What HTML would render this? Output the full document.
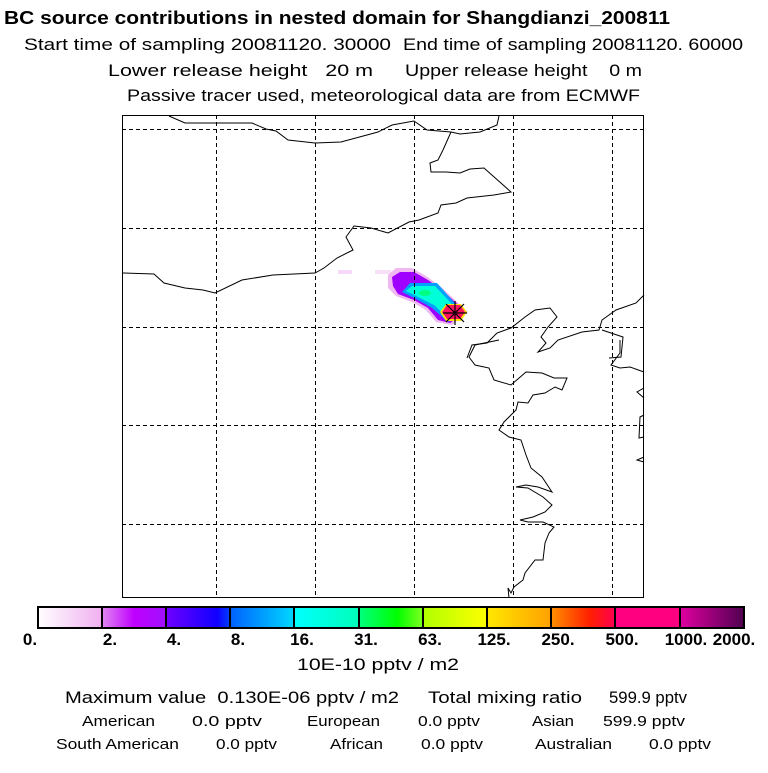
<!DOCTYPE html>
<html><head><style>
body{margin:0;background:#fff;}
svg text{font-family:"Liberation Sans",Arial,sans-serif;fill:#000;}
</style></head><body>
<svg width="768" height="768" viewBox="0 0 768 768" xmlns="http://www.w3.org/2000/svg">
<defs>
<linearGradient id="g1"><stop offset="0" stop-color="#fff"/><stop offset="1" stop-color="#f0b0f0"/></linearGradient>
<linearGradient id="g2"><stop offset="0" stop-color="#e088f0"/><stop offset="0.5" stop-color="#c000ff"/><stop offset="1" stop-color="#a010ff"/></linearGradient>
<linearGradient id="g3"><stop offset="0" stop-color="#7000ff"/><stop offset="0.8" stop-color="#1000ff"/><stop offset="1" stop-color="#0040ff"/></linearGradient>
<linearGradient id="g4"><stop offset="0" stop-color="#0060ff"/><stop offset="1" stop-color="#00d8ff"/></linearGradient>
<linearGradient id="g5"><stop offset="0" stop-color="#00ffff"/><stop offset="1" stop-color="#00ffb8"/></linearGradient>
<linearGradient id="g6"><stop offset="0" stop-color="#00ff80"/><stop offset="0.6" stop-color="#00ff00"/><stop offset="1" stop-color="#80ff20"/></linearGradient>
<linearGradient id="g7"><stop offset="0" stop-color="#b0ff00"/><stop offset="1" stop-color="#ffff00"/></linearGradient>
<linearGradient id="g8"><stop offset="0" stop-color="#ffe800"/><stop offset="1" stop-color="#ffa000"/></linearGradient>
<linearGradient id="g9"><stop offset="0" stop-color="#ff9000"/><stop offset="0.6" stop-color="#ff2000"/><stop offset="1" stop-color="#ff0050"/></linearGradient>
<linearGradient id="g10"><stop offset="0" stop-color="#ff0080"/><stop offset="1" stop-color="#ff0080"/></linearGradient>
<linearGradient id="g11"><stop offset="0" stop-color="#e000a0"/><stop offset="1" stop-color="#500050"/></linearGradient>
</defs>

<text x="4" y="24" font-size="18" font-weight="bold" textLength="666" lengthAdjust="spacingAndGlyphs">BC  source contributions in nested domain for Shangdianzi_200811</text>
<text x="24" y="50" font-size="17" textLength="367" lengthAdjust="spacingAndGlyphs">Start time of sampling 20081120. 30000</text>
<text x="403" y="50" font-size="17" textLength="340" lengthAdjust="spacingAndGlyphs">End time of sampling 20081120. 60000</text>
<text x="108" y="76" font-size="17" textLength="265" lengthAdjust="spacingAndGlyphs" xml:space="preserve">Lower release height   20 m</text>
<text x="405" y="76" font-size="17" textLength="237" lengthAdjust="spacingAndGlyphs" xml:space="preserve">Upper release height    0 m</text>
<text x="127" y="101" font-size="17" textLength="513" lengthAdjust="spacingAndGlyphs">Passive tracer used, meteorological data are from ECMWF</text>

<!-- plume -->
<rect x="338" y="270" width="14" height="4" fill="#f8d8f8"/>
<rect x="375" y="270" width="16" height="4" fill="#f8e0f8"/>
<path d="M388,275 L396,268 L412,268 L426,276 L440,286 L468,312 L452,325 L436,322 L426,310 L412,302 L396,296 L388,288 Z" fill="#f0b8f0"/>
<path d="M392,277 L400,272 L414,272 L428,280 L442,290 L466,312 L450,323 L438,320 L428,308 L414,300 L398,294 L393,286 Z" fill="#a000ff"/>
<path d="M402,292 L410,283 L437,283 L452,300 L464,313 L448,322 L432,308 L418,300 Z" fill="#00a0ff"/>
<path d="M406,291 L412,286 L435,286 L449,301 L460,313 L449,319 L434,305 L420,298 Z" fill="#00ffd8"/>
<ellipse cx="425" cy="293" rx="6" ry="3" fill="#00ff80"/>
<polygon points="440,312 446,304 461,304 467,312 461,321 446,321" fill="#ffe000"/>
<polygon points="442,312 447,305 460,305 465,312 460,319 447,319" fill="#ff1060"/>

<!-- coastlines -->
<g fill="none" stroke="#000" stroke-width="1">
<polyline points="169,116 185,123 203,123 252,123 266,129 276,131 288,140 315,143 341,142 378,132 392,125 414,121 427,130 451,132 460,134 480,132 497,125 499,116"/>
<polyline points="451,132 443,150 438,160 430,163 431,172 446,172 460,173 470,169 484,168 511,192 494,195 467,198 456,203 441,205 438,213 419,220 409,222 388,233 371,228 354,226 346,237 353,250 337,258 324,268 315,273 273,275 242,280 215,293 203,290 185,288 164,283 154,274 123,273"/>
<polyline points="467,358 472,345 487,343 497,333 511,328 525,317 535,310 550,308 557,317 548,327 541,337 546,343 538,352 550,348 558,340 582,332 599,330 602,320 616,310 636,303 644,295"/>
<polyline points="609,358 621,357 623,337 602,330"/>
<polyline points="499,340 475,345 469,357 475,365 489,368 494,380 511,385 526,372 542,373 554,378 567,378 562,390 555,387 545,393 533,395 528,403 518,402 516,410 504,422 499,430 509,437 521,440 526,455 531,468 542,477 552,492 538,487 526,485 516,487 528,488 543,497 552,505 545,512 533,517 520,520 528,522 543,522 554,527 549,533 545,543 543,560 535,560 525,573 523,580 514,587 511,593 508,588 509,598"/>
<polyline points="620,340 620,353 611,365 620,368 630,367 644,372"/>
<polyline points="644,388 637,392 644,398"/>
<polyline points="644,415 640,417 639,438 644,437"/>
<polyline points="644,457 637,460 644,462"/>
</g>

<!-- grid -->
<g stroke="#000" stroke-width="1" stroke-dasharray="4,3">
<line x1="216.5" y1="115" x2="216.5" y2="598"/>
<line x1="315.5" y1="115" x2="315.5" y2="598"/>
<line x1="414.5" y1="115" x2="414.5" y2="598"/>
<line x1="513.5" y1="115" x2="513.5" y2="598"/>
<line x1="612.5" y1="115" x2="612.5" y2="598"/>
<line x1="122" y1="129.5" x2="644" y2="129.5"/>
<line x1="122" y1="228.5" x2="644" y2="228.5"/>
<line x1="122" y1="327.5" x2="644" y2="327.5"/>
<line x1="122" y1="425.5" x2="644" y2="425.5"/>
<line x1="122" y1="524.5" x2="644" y2="524.5"/>
</g>

<!-- star -->
<g stroke="#000" stroke-width="1.2">
<line x1="443" y1="313" x2="467" y2="313"/>
<line x1="455" y1="301" x2="455" y2="325"/>
<line x1="446" y1="304" x2="464" y2="322"/>
<line x1="464" y1="304" x2="446" y2="322"/>
</g>

<rect x="122.5" y="115.5" width="521" height="482" fill="none" stroke="#000" stroke-width="1"/>

<!-- colorbar -->
<g>
<rect x="38" y="607" width="64" height="21" fill="url(#g1)"/>
<rect x="102" y="607" width="64" height="21" fill="url(#g2)"/>
<rect x="166" y="607" width="64" height="21" fill="url(#g3)"/>
<rect x="230" y="607" width="64" height="21" fill="url(#g4)"/>
<rect x="294" y="607" width="65" height="21" fill="url(#g5)"/>
<rect x="359" y="607" width="64" height="21" fill="url(#g6)"/>
<rect x="423" y="607" width="64" height="21" fill="url(#g7)"/>
<rect x="487" y="607" width="64" height="21" fill="url(#g8)"/>
<rect x="551" y="607" width="64" height="21" fill="url(#g9)"/>
<rect x="615" y="607" width="65" height="21" fill="url(#g10)"/>
<rect x="680" y="607" width="64" height="21" fill="url(#g11)"/>
<g stroke="#000" stroke-width="2" fill="none">
<rect x="38" y="607" width="706" height="21"/>
<line x1="102" y1="607" x2="102" y2="628"/><line x1="166" y1="607" x2="166" y2="628"/>
<line x1="230" y1="607" x2="230" y2="628"/><line x1="294" y1="607" x2="294" y2="628"/>
<line x1="359" y1="607" x2="359" y2="628"/><line x1="423" y1="607" x2="423" y2="628"/>
<line x1="487" y1="607" x2="487" y2="628"/><line x1="551" y1="607" x2="551" y2="628"/>
<line x1="615" y1="607" x2="615" y2="628"/><line x1="680" y1="607" x2="680" y2="628"/>
</g>
</g>
<g font-size="17" font-weight="bold" text-anchor="middle">
<text x="30" y="645">0.</text>
<text x="110" y="645">2.</text>
<text x="174" y="645">4.</text>
<text x="238" y="645">8.</text>
<text x="302" y="645">16.</text>
<text x="366" y="645">31.</text>
<text x="430" y="645">63.</text>
<text x="494" y="645">125.</text>
<text x="558" y="645">250.</text>
<text x="622" y="645">500.</text>
<text x="686" y="645">1000.</text>
<text x="734" y="645">2000.</text>
</g>
<text x="297" y="670" font-size="17" textLength="162" lengthAdjust="spacingAndGlyphs">10E-10 pptv / m2</text>
<text x="65" y="703" font-size="17" textLength="334" lengthAdjust="spacingAndGlyphs" xml:space="preserve">Maximum value  0.130E-06 pptv / m2</text>
<text x="428" y="703" font-size="17" textLength="154" lengthAdjust="spacingAndGlyphs">Total mixing ratio</text>
<text x="609" y="703" font-size="17" textLength="78" lengthAdjust="spacingAndGlyphs">599.9 pptv</text>
<g font-size="15">
<text x="82" y="726" textLength="73" lengthAdjust="spacingAndGlyphs">American</text><text x="192" y="726" textLength="70" lengthAdjust="spacingAndGlyphs">0.0 pptv</text>
<text x="307" y="726" textLength="73" lengthAdjust="spacingAndGlyphs">European</text><text x="418" y="726" textLength="62" lengthAdjust="spacingAndGlyphs">0.0 pptv</text>
<text x="532" y="726" textLength="42" lengthAdjust="spacingAndGlyphs">Asian</text><text x="603" y="726" textLength="82" lengthAdjust="spacingAndGlyphs">599.9 pptv</text>
<text x="56" y="749" textLength="123" lengthAdjust="spacingAndGlyphs">South American</text><text x="216" y="749" textLength="61" lengthAdjust="spacingAndGlyphs">0.0 pptv</text>
<text x="330" y="749" textLength="53" lengthAdjust="spacingAndGlyphs">African</text><text x="421" y="749" textLength="62" lengthAdjust="spacingAndGlyphs">0.0 pptv</text>
<text x="535" y="749" textLength="77" lengthAdjust="spacingAndGlyphs">Australian</text><text x="649" y="749" textLength="62" lengthAdjust="spacingAndGlyphs">0.0 pptv</text>
</g>
</svg>
</body></html>
